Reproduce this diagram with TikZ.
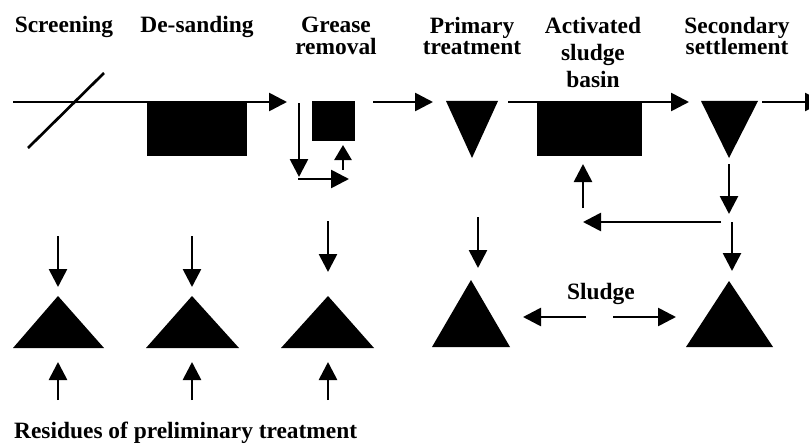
\documentclass[tikz,border=0pt]{standalone}
\usepackage{fontspec}
\setmainfont{Liberation Serif}
\usetikzlibrary{arrows.meta}
\begin{document}
\begin{tikzpicture}[x=1pt,y=-1pt,
  flow/.style={line width=2.7pt,-{Triangle[length=18pt,width=18pt]}},
  smallflow/.style={line width=2.7pt,-{Triangle[length=15pt,width=17pt]}},
  plain/.style={line width=2.7pt},
  lbl/.style={font=\bfseries\fontsize{23.4}{21.5}\selectfont, align=center, inner sep=0pt, anchor=north},
  blk/.style={fill=black, draw=none, inner sep=0pt, anchor=north west},
  tri/.style={fill=black, draw=none}]
\useasboundingbox (0,0) rectangle (809,444);
\clip (0,0) rectangle (809,444);

% labels
\node[lbl] (lscr) at (64,16) {Screening};
\node[lbl] (ldes) at (197,16) {De-sanding};
\node[lbl] (lgre) at (336,17) {Grease\\removal};
\node[lbl] (lpri) at (472,17) {Primary\\treatment};
\node[lbl, font=\bfseries\fontsize{23.4}{27}\selectfont] (lact) at (593,17) {Activated\\sludge\\basin};
\node[lbl] (lsec) at (737,17) {Secondary\\settlement};
\node[font=\bfseries\fontsize{23.4}{22}\selectfont, inner sep=0pt, anchor=base west] (lres) at (14,438) {Residues of preliminary treatment};
\node[font=\bfseries\fontsize{23.4}{22}\selectfont, inner sep=0pt, anchor=base] (lslu) at (601,299) {Sludge};

% blocks
\node[blk, minimum width=100pt, minimum height=55pt] (desand) at (147,101) {};
\node[blk, minimum width=43pt, minimum height=40pt] (grease) at (312,101) {};
\node[blk, minimum width=105pt, minimum height=55pt] (basin) at (537,101) {};

% settling tanks (inverted triangles)
\fill[tri] (446,101) coordinate (pri1) -- (498,101) -- (472,158) coordinate (prib) -- cycle;
\fill[tri] (701,101) coordinate (sec1) -- (758,101) -- (729,158) coordinate (secb) -- cycle;

% sludge / residue triangles
\fill[tri] (58,296) -- (104,348) -- (13,348) -- cycle;
\fill[tri] (192,296) -- (239,348) -- (146,348) -- cycle;
\fill[tri] (328,296) -- (374,348) -- (281,348) -- cycle;
\fill[tri] (471,280) -- (510,347) -- (432,347) -- cycle;
\fill[tri] (729,281) -- (773,347) -- (686,347) -- cycle;

% screening bar
\coordinate (s1) at (28,148);
\coordinate (s2) at (104,73);
\draw[plain] (s1) -- (s2);

% main flow line
\coordinate (in) at (13,102);
\coordinate (g1) at (287,102);
\draw[flow] (in) -- (g1);
\coordinate (g2) at (373,102);
\coordinate (p1) at (433,102);
\draw[flow] (g2) -- (p1);
\coordinate (b0) at (508,102);
\coordinate (b1) at (689,102);
\draw[flow] (b0) -- (b1);
\coordinate (o0) at (762,102);
\coordinate (o1) at (823,102);
\draw[flow] (o0) -- (o1);

% grease removal loop
\coordinate (gd0) at (299,103);
\coordinate (gd1) at (299,177);
\draw[flow] (gd0) -- (gd1);
\coordinate (gh0) at (298,179);
\coordinate (gh1) at (349,179);
\draw[flow] (gh0) -- (gh1);
\coordinate (gu0) at (343,170);
\coordinate (gu1) at (343,145);
\draw[smallflow] (gu0) -- (gu1);

% return sludge
\coordinate (sd0) at (729,164);
\coordinate (sd1) at (729,214);
\draw[flow] (sd0) -- (sd1);
\coordinate (r0) at (721,222);
\coordinate (r1) at (583,222);
\draw[flow] (r0) -- (r1);
\coordinate (u0) at (583,208);
\coordinate (u1) at (583,164);
\draw[flow] (u0) -- (u1);
\coordinate (ed0) at (732,222);
\coordinate (ed1) at (732,271);
\draw[flow] (ed0) -- (ed1);

% primary sludge
\coordinate (pd0) at (478,217);
\coordinate (pd1) at (478,268);
\draw[flow] (pd0) -- (pd1);

% sludge arrows
\coordinate (sl0) at (586,317);
\coordinate (sl1) at (523,317);
\draw[flow] (sl0) -- (sl1);
\coordinate (sr0) at (613,317);
\coordinate (sr1) at (676,317);
\draw[flow] (sr0) -- (sr1);

% residues arrows
\foreach \x/\t in {58/236,192/236,328/221}{
  \draw[flow] (\x,\t) -- (\x,\t+51);
  \draw[flow] (\x,400) -- (\x,362);
}
\end{tikzpicture}
\end{document}
